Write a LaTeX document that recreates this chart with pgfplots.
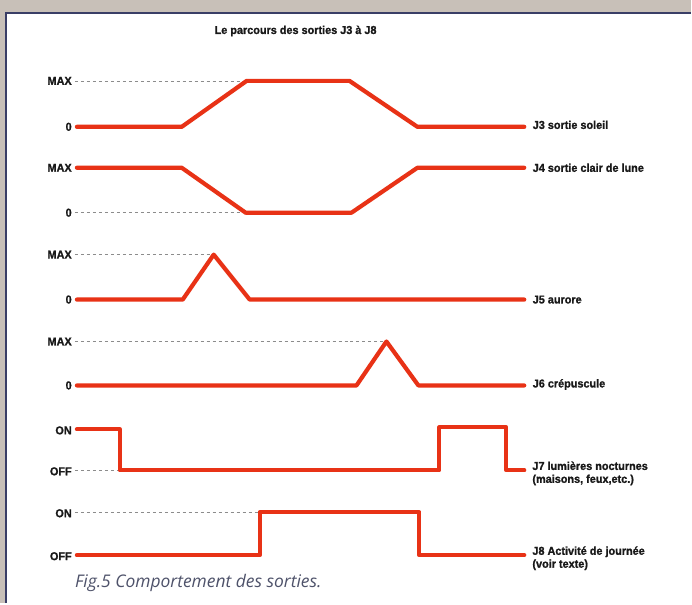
\documentclass[border=0pt]{standalone}
\usepackage{pgfplots}
\pgfplotsset{compat=1.18}
\usepackage{fontspec}
\setmainfont{Liberation Sans}
\newfontfamily\cond[FakeStretch=0.95, BoldFeatures={FakeBold=1.2}]{Liberation Sans}
\newfontfamily\capfont{Open Sans}
\definecolor{trace}{RGB}{232,50,22}
\definecolor{paper}{RGB}{200,192,184}
\definecolor{frame}{RGB}{58,62,102}
\definecolor{captxt}{RGB}{78,82,106}
\tikzset{
  lbl/.style={font=\cond\bfseries\fontsize{11.5}{13}\selectfont, text=black!90},
  tr/.style={trace, line width=4.2bp, line join=round, line cap=round},
  dsh/.style={black!45, line width=0.6bp, dash pattern=on 3bp off 3bp}}
\begin{document}
\begin{tikzpicture}
\begin{axis}[scale only axis, width=692bp, height=604bp,
  xmin=0, xmax=692, ymin=0, ymax=604, y dir=reverse,
  axis lines=none, ticks=none, clip=false]
\fill[paper] (axis cs:0,0) rectangle (axis cs:692,604);
\fill[white] (axis cs:6,13) rectangle (axis cs:692,604);
\draw[frame, line width=2bp] (axis cs:6,604) -- (axis cs:6,13) -- (axis cs:692,13);
% reference dashed levels
\addplot[dsh, no marks] coordinates {(75,81)(247,81)};
\addplot[dsh, no marks] coordinates {(75,213)(246,213)};
\addplot[dsh, no marks] coordinates {(75,255)(214,255)};
\addplot[dsh, no marks] coordinates {(75,342)(387,342)};
\addplot[dsh, no marks] coordinates {(75,471)(120,471)};
\addplot[dsh, no marks] coordinates {(75,513)(260,513)};
% J3
\addplot[tr, no marks] coordinates {(77,127)(182,127)(247,81)(350,81)(418,127)(525,127)};
% J4
\addplot[tr, no marks] coordinates {(77,168)(182,168)(246,213)(352,213)(418,168)(525,168)};
% J5
\addplot[tr, no marks] coordinates {(77,300)(183,300)(214,255)(250,300)(525,300)};
% J6
\addplot[tr, no marks] coordinates {(77,386)(357,386)(387,342)(419,386)(525,386)};
% J7
\addplot[tr, no marks] coordinates {(77,430)(120,430)(120,471)(440,471)(440,428)(507,428)(507,471)(525,471)};
% J8
\addplot[tr, no marks] coordinates {(77,556)(260,556)(260,513)(420,513)(420,556)(525,556)};
% left labels
\begin{scope}[every node/.style={lbl, anchor=east, inner xsep=0pt}]
\node at (axis cs:72,81) {MAX};
\node at (axis cs:72,127) {0};
\node at (axis cs:72,168) {MAX};
\node at (axis cs:72,213) {0};
\node at (axis cs:72,255) {MAX};
\node at (axis cs:72,300) {0};
\node at (axis cs:72,342) {MAX};
\node at (axis cs:72,386) {0};
\node at (axis cs:72,431) {ON};
\node at (axis cs:72,472) {OFF};
\node at (axis cs:72,514) {ON};
\node at (axis cs:72,557) {OFF};
\end{scope}
% right labels
\node[lbl, anchor=west] at (axis cs:530,125) {J3 sortie soleil};
\node[lbl, anchor=west] at (axis cs:530,168) {J4 sortie clair de lune};
\node[lbl, anchor=west] at (axis cs:530,300) {J5 aurore};
\node[lbl, anchor=west] at (axis cs:530,385) {J6 crépuscule};
\node[lbl, anchor=north west, align=left, inner sep=0pt] at (axis cs:533,462) {J7 lumières nocturnes\\(maisons, feux,etc.)};
\node[lbl, anchor=north west, align=left, inner sep=0pt] at (axis cs:533,547) {J8 Activité de journée\\(voir texte)};
% title
\node[lbl] at (axis cs:296,31) {Le parcours des sorties J3 à J8};
% caption
\node[anchor=west, font=\capfont\itshape\fontsize{17.5}{19}\selectfont, text=captxt, inner sep=0pt] at (axis cs:75,584) {Fig.5 Comportement des sorties.};
\end{axis}
\end{tikzpicture}
\end{document}
